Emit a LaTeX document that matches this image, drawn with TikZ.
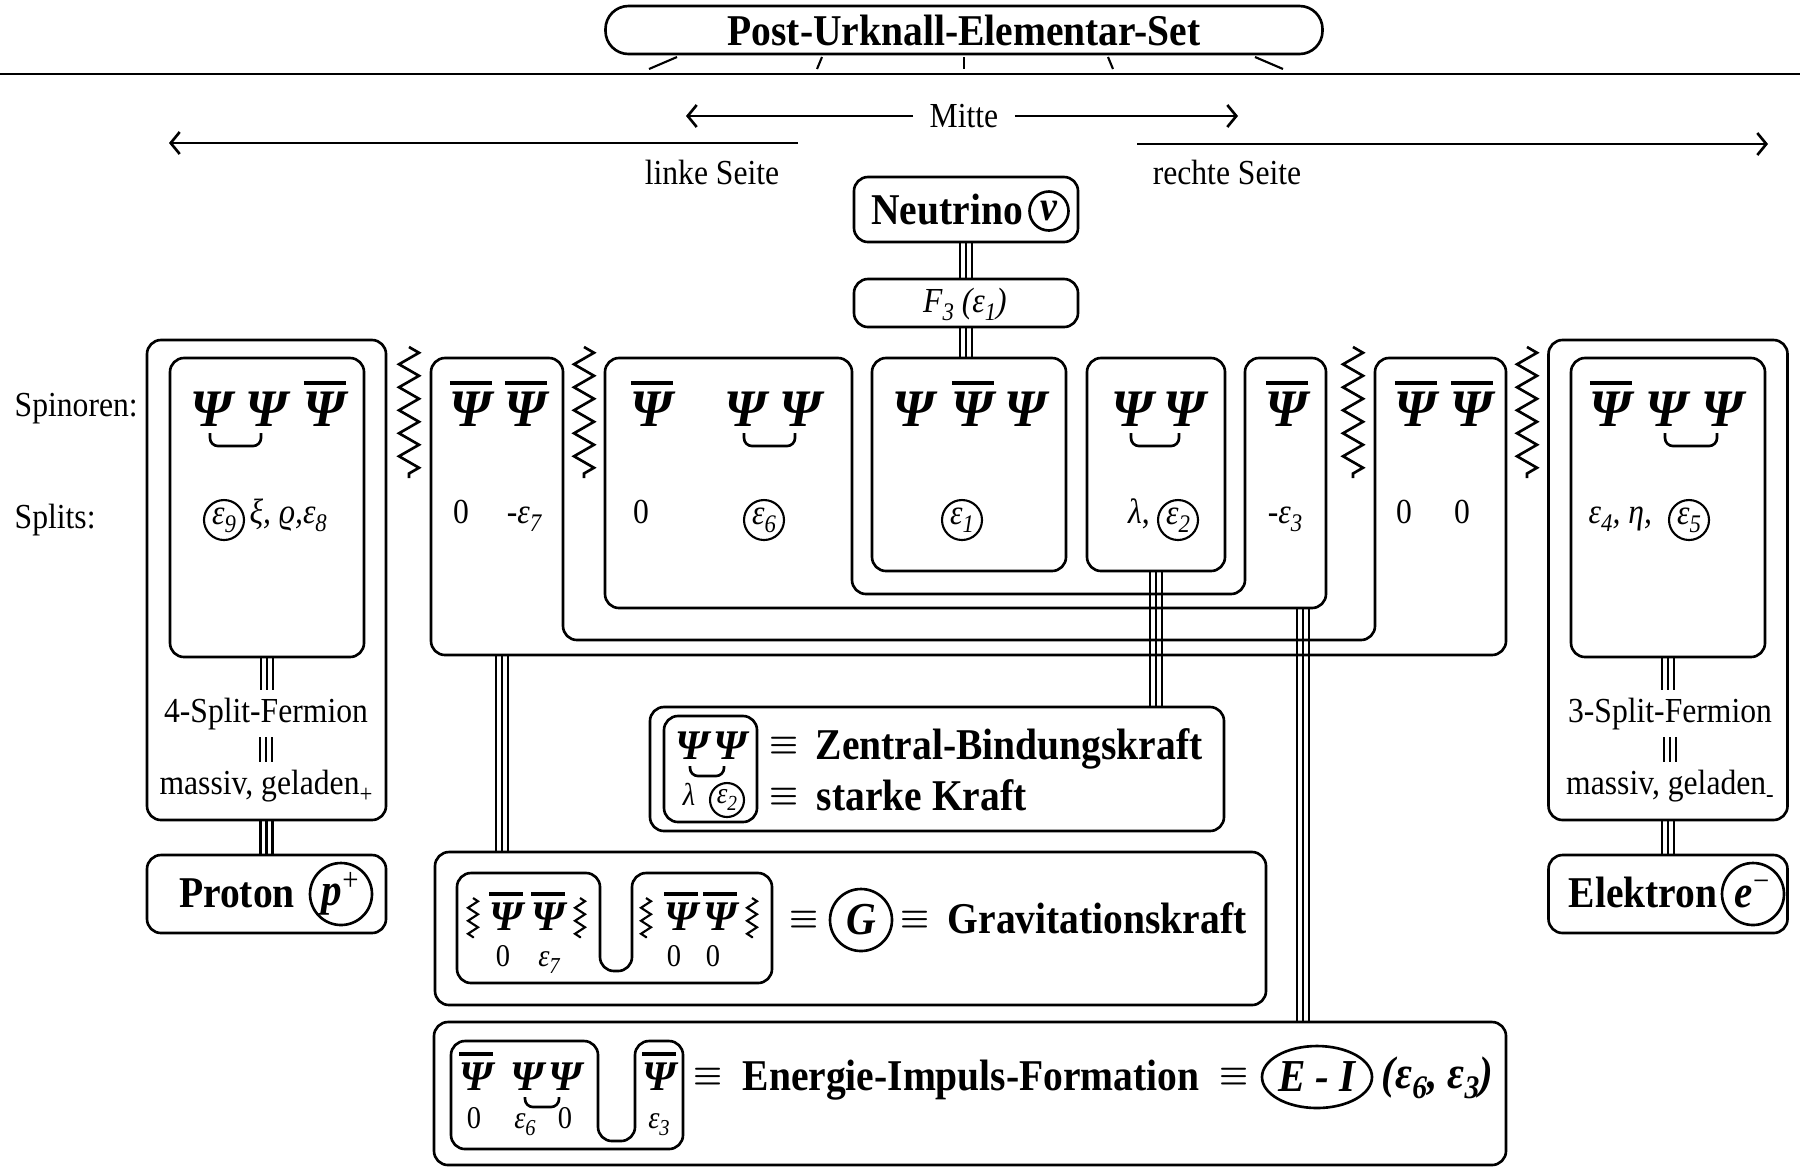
\documentclass[tikz,border=0pt]{standalone}
\usepackage{fontspec}
\setmainfont{Liberation Serif}[FakeStretch=0.9]
\newfontfamily\psifont{Liberation Serif}
\usetikzlibrary{arrows.meta,calc,backgrounds,shapes.geometric,decorations.pathmorphing}
\newcommand{\psibar}{\vbox{\hrule height 1.2pt\kern 1.8pt\hbox{Ψ}}}
\newcommand{\pairbr}[3][13]{\draw[pairline] ($(#2.base)+(-2,7)$) -- ++(0,#1) -| ($(#3.base)+(-6,7)$);}
\makeatletter
\newcommand{\sub}[1]{\raisebox{-0.5ex}{\dimen@=\f@size pt\dimen@=0.72\dimen@\fontsize{\strip@pt\dimen@}{1}\selectfont #1}}
\makeatother
\tikzset{
    boxline/.style = {draw, line width=0.75pt, rounded corners=1.4mm},
    boxnode/.style = {boxline, inner sep=0pt},
    tripleline/.style = {line width=4pt, postaction={draw=white, line width=2.6pt}, postaction={draw=black, line width=0.6pt}},
    plaintxt/.style = {font=\fontsize{10}{12}\selectfont, inner sep=2pt},
    boldtxt/.style = {font=\fontsize{12.5}{14}\selectfont\bfseries, inner sep=0pt},
    psitxt/.style = {font=\fontsize{15}{16}\psifont\bfseries\itshape, inner sep=0pt, anchor=base},
    smallpsi/.style = {font=\fontsize{12}{13}\psifont\bfseries\itshape, inner sep=0pt, anchor=base},
    splittxt/.style = {font=\fontsize{10}{12}\selectfont, inner sep=0pt, anchor=base},
    smallsplit/.style = {font=\fontsize{9}{10}\selectfont, inner sep=0pt, anchor=base},
    ringnode/.style = {circle, draw, line width=0.6pt, inner sep=0pt, minimum size=4mm, font=\fontsize{10}{12}\selectfont\itshape},
    smallring/.style = {ringnode, minimum size=3.4mm, font=\fontsize{8.5}{10}\selectfont\itshape},
    bigring/.style = {circle, draw, line width=0.75pt, inner sep=0pt, minimum size=6.2mm, font=\fontsize{13}{14}\selectfont\bfseries\itshape},
    eqvsign/.style = {font=\fontsize{9}{10}\selectfont\boldmath, inner sep=0pt},
    zigline/.style = {line width=0.75pt, decorate, decoration={zigzag, segment length=2.3mm, amplitude=1mm}},
    smallzig/.style = {line width=0.6pt, decorate, decoration={zigzag, segment length=1.3mm, amplitude=0.5mm}},
    pairline/.style = {line width=0.75pt, rounded corners=0.8mm},
    sidearrow/.style = {line width=0.75pt, -{Straight Barb[length=0.9mm, width=2.2mm]}}
}

\begin{document}
\begin{tikzpicture}[x=0.1mm, y=-0.1mm]
    \begin{scope}[on background layer]
        \fill[white] (0,0) rectangle (1800,1167);
    \end{scope}
    \useasboundingbox (0,0) rectangle (1800,1167);

    % Kopf
    \node[boxnode, boldtxt, rounded corners=2.3mm, minimum width=71.7mm, minimum height=4.8mm] (title) at (964,30) {Post-Urknall-Elementar-Set};
    \foreach \a/\b in {677/649, 822/817, 964/964, 1108/1113, 1255/1283}
        \draw[line width=0.6pt] (\a,57) -- (\b,69);
    \draw[line width=0.8pt] (0,74) -- (1800,74);

    % Mitte, linke und rechte Seite
    \node[plaintxt, inner sep=4.5pt] (mitte) at (964,116) {Mitte};
    \coordinate (mitteL) at (686,116);
    \coordinate (mitteR) at (1238,116);
    \draw[sidearrow] (mitte.west) -- (mitteL);
    \draw[sidearrow] (mitte.east) -- (mitteR);
    \coordinate (linksA) at (798,143);
    \coordinate (linksB) at (169,143);
    \coordinate (rechtsA) at (1137,144);
    \coordinate (rechtsB) at (1768,144);
    \draw[sidearrow] (linksA) -- (linksB);
    \draw[sidearrow] (rechtsA) -- (rechtsB);
    \node[plaintxt, anchor=base] (linke) at (712,184) {linke Seite};
    \node[plaintxt, anchor=base] (rechte) at (1227,184) {rechte Seite};

    % Neutrino
    \node[boxnode, minimum width=22.4mm, minimum height=6.5mm] (neutrino) at (966,209.5) {};
    \node[boldtxt, anchor=base] (ntxt) at (947,224) {Neutrino};
    \node[bigring, minimum size=3.9mm, font=\fontsize{12}{13}\selectfont\bfseries\itshape] (nnu) at (1049,211) {ν};
    \node[boxnode, minimum width=22.4mm, minimum height=4.8mm] (f3) at (966,303) {};
    \node[plaintxt, anchor=base, inner sep=0pt] (f3txt) at (965,312) {\itshape F\sub{3} (ε\sub{1})};

    % Zeilen
    \node[plaintxt, anchor=base west, inner sep=0pt] (spin) at (14,416) {Spinoren:};
    \node[plaintxt, anchor=base west, inner sep=0pt] (splits) at (14,528) {Splits:};

    % Proton
    \node[boxnode, minimum width=23.9mm, minimum height=48mm] (pout) at (266.5,580) {};
    \node[boxnode, minimum width=19.4mm, minimum height=29.9mm] (pin) at (267,507.5) {};
    \node[psitxt] (pa) at (212,426) {Ψ};
    \node[psitxt] (pb) at (267,426) {Ψ};
    \node[psitxt] (pc) at (325,426) {\psibar};
    \pairbr{pa}{pb}
    \node[ringnode] (p9) at (224,520) {ε\sub{9}};
    \node[splittxt, anchor=base west] (pxi) at (249,523) {\itshape ξ, ϱ,ε\sub{8}};
    \node[plaintxt, anchor=base] (pfl) at (266,722) {4-Split-Fermion};
    \node[plaintxt, anchor=base] (pmg) at (266,794) {massiv, geladen\sub{+}};
    \node[boxnode, minimum width=23.9mm, minimum height=7.8mm] (proton) at (266.5,894) {};
    \node[boldtxt, anchor=base] (ptxt) at (237,907) {Proton};
    \node[bigring] (pp) at (341,894) {p\textsuperscript{\normalfont +}};

    % Zickzack
    \draw[zigline] (409,347) -- (409,478);
    \draw[zigline] (584,347) -- (584,478);
    \draw[zigline] (1353,347) -- (1353,478);
    \draw[zigline] (1527,347) -- (1527,478);

    % aeusserer U-Rahmen
    \draw[boxline] (431,500) -- (431,358) -- (563,358) -- (563,640) -- (1375,640) -- (1375,358)
        -- (1506,358) -- (1506,655) -- (431,655) -- cycle;
    \node[psitxt] (ba) at (471,426) {\psibar};
    \node[psitxt] (bb) at (526,426) {\psibar};
    \node[splittxt] (b0) at (461,523) {0};
    \node[splittxt] (b7) at (524,523) {-\textit{ε\sub{7}}};
    \node[psitxt] (be) at (1416,426) {\psibar};
    \node[psitxt] (bf) at (1472,426) {\psibar};
    \node[splittxt] (b1) at (1404,523) {0};
    \node[splittxt] (b2) at (1462,523) {0};

    % innerer U-Rahmen
    \draw[boxline] (605,500) -- (605,358) -- (852,358) -- (852,594) -- (1245,594) -- (1245,358)
        -- (1326,358) -- (1326,608) -- (605,608) -- cycle;
    \node[psitxt] (ca) at (652,426) {\psibar};
    \node[psitxt] (cb) at (746,426) {Ψ};
    \node[psitxt] (cc) at (801,426) {Ψ};
    \pairbr{cb}{cc}
    \node[splittxt] (c0) at (641,523) {0};
    \node[ringnode] (c6) at (764,520) {ε\sub{6}};
    \node[psitxt] (cd) at (1287,426) {\psibar};
    \node[splittxt] (c3) at (1285,523) {-\textit{ε\sub{3}}};

    % Mitte epsilon 1
    \node[boxnode, minimum width=19.4mm, minimum height=21.3mm] (epsone) at (969,464.5) {};
    \node[psitxt] (da) at (914,426) {Ψ};
    \node[psitxt] (db) at (973,426) {\psibar};
    \node[psitxt] (dc) at (1026,426) {Ψ};
    \node[ringnode] (d1) at (962,520) {ε\sub{1}};

    % epsilon 2
    \node[boxnode, minimum width=13.8mm, minimum height=21.3mm] (epstwo) at (1156,464.5) {};
    \node[psitxt] (ea) at (1133,426) {Ψ};
    \node[psitxt] (eb) at (1185,426) {Ψ};
    \pairbr{ea}{eb}
    \node[splittxt] (el) at (1139,523) {\textit{λ},};
    \node[ringnode] (e2) at (1178,520) {ε\sub{2}};

    % Elektron
    \node[boxnode, minimum width=23.9mm, minimum height=48mm] (eout) at (1668,580) {};
    \node[boxnode, minimum width=19.4mm, minimum height=29.9mm] (ein) at (1668,507.5) {};
    \node[psitxt] (xa) at (1611,426) {\psibar};
    \node[psitxt] (xb) at (1667,426) {Ψ};
    \node[psitxt] (xc) at (1723,426) {Ψ};
    \pairbr{xb}{xc}
    \node[splittxt, anchor=base west] (x4) at (1588,523) {\itshape ε\sub{4}, η,};
    \node[ringnode] (x5) at (1689,520) {ε\sub{5}};
    \node[plaintxt, anchor=base] (xfl) at (1670,722) {3-Split-Fermion};
    \node[plaintxt, anchor=base] (xmg) at (1670,794) {massiv, geladen\sub{-}};
    \node[boxnode, minimum width=23.9mm, minimum height=7.8mm] (elektron) at (1668,894) {};
    \node[boldtxt, anchor=base] (xtxt) at (1643,907) {Elektron};
    \node[bigring] (xe) at (1753,894) {e\textsuperscript{\normalfont −}};

    % Zentral-Bindungskraft
    \node[boxnode, minimum width=57.4mm, minimum height=12.4mm] (zentral) at (937,769) {};
    \node[boxnode, minimum width=9.3mm, minimum height=10.6mm] (zin) at (710.5,769) {};
    \node[smallpsi] (za) at (692,759) {Ψ};
    \node[smallpsi] (zb) at (730,759) {Ψ};
    \pairbr[10]{za}{zb}
    \node[smallsplit] (zl) at (689,805) {\itshape λ};
    \node[smallring] (z2) at (727,800) {ε\sub{2}};
    \node[eqvsign] (zeq1) at (784,746) {$\equiv$};
    \node[boldtxt, anchor=base west] (ztxt) at (815,759) {Zentral-Bindungskraft};
    \node[eqvsign] (zeq2) at (784,797) {$\equiv$};
    \node[boldtxt, anchor=base west] (stxt) at (816,810) {starke Kraft};

    % Gravitationskraft
    \node[boxnode, minimum width=83.1mm, minimum height=15.3mm] (grav) at (850.5,928.5) {};
    \draw[boxline] (457,930) -- (457,873) -- (600,873) -- (600,971) -- (632,971) -- (632,873)
        -- (772,873) -- (772,983) -- (457,983) -- cycle;
    \foreach \zx in {473,580,646,752}
        \draw[smallzig] (\zx,898) -- (\zx,938);
    \node[smallpsi] (ga) at (506,930) {\psibar};
    \node[smallpsi] (gb) at (548,930) {\psibar};
    \node[smallpsi] (gc) at (681,930) {\psibar};
    \node[smallpsi] (gd) at (720,930) {\psibar};
    \node[smallsplit] (g0) at (503,966) {0};
    \node[smallsplit] (g7) at (549,966) {\itshape ε\sub{7}};
    \node[smallsplit] (g1) at (674,966) {0};
    \node[smallsplit] (g2) at (713,966) {0};
    \node[eqvsign] (geq1) at (804,920) {$\equiv$};
    \node[bigring] (gg) at (861,920) {G};
    \node[eqvsign] (geq2) at (915,920) {$\equiv$};
    \node[boldtxt, anchor=base west] (gtxt) at (947,933) {Gravitationskraft};

    % Energie-Impuls-Formation
    \node[boxnode, minimum width=107.2mm, minimum height=14.3mm] (energie) at (970,1093.5) {};
    \draw[boxline] (451,1100) -- (451,1041) -- (598,1041) -- (598,1141) -- (635,1141) -- (635,1041)
        -- (683,1041) -- (683,1149) -- (451,1149) -- cycle;
    \node[smallpsi] (fa) at (476,1090) {\psibar};
    \node[smallpsi] (fb) at (527,1090) {Ψ};
    \node[smallpsi] (fc) at (565,1090) {Ψ};
    \pairbr[10]{fb}{fc}
    \node[smallsplit] (f0) at (474,1128) {0};
    \node[smallsplit] (f6) at (525,1128) {\itshape ε\sub{6}};
    \node[smallsplit] (f1) at (565,1128) {0};
    \node[smallpsi] (fd) at (659,1090) {\psibar};
    \node[smallsplit] (f3e) at (659,1128) {\itshape ε\sub{3}};
    \node[eqvsign] (feq1) at (708,1077) {$\equiv$};
    \node[boldtxt, anchor=base west] (ftxt) at (742,1090) {Energie-Impuls-Formation};
    \node[eqvsign] (feq2) at (1234,1077) {$\equiv$};
    \node[ellipse, draw, line width=0.75pt, inner sep=0pt, minimum width=11mm, minimum height=6.2mm,
        font=\fontsize{13}{14}\selectfont\bfseries\itshape] (ei) at (1317,1077) {E - I};
    \node[boldtxt, anchor=base west, font=\fontsize{13}{14}\selectfont\bfseries\itshape] (feps) at (1381,1088) {(ε\sub{6}, ε\sub{3})};

    % dreifache Verbindungen
    \coordinate (bfoot) at (502,655);
    \coordinate (cfoot) at (1303,608);
    \begin{scope}[on background layer]
        \draw[tripleline] (neutrino.south) -- (f3.north);
        \draw[tripleline] (f3.south) -- (f3.south |- epsone.north);
        \draw[tripleline] (pin.south) -- (pin.south |- pfl.north);
        \draw[tripleline] (pfl.south) -- (pfl.south |- pmg.north);
        \draw[tripleline] (pout.south) -- (proton.north);
        \draw[tripleline] (ein.south) -- (ein.south |- xfl.north);
        \draw[tripleline] (xfl.south) -- (xfl.south |- xmg.north);
        \draw[tripleline] (eout.south) -- (elektron.north);
        \draw[tripleline] (epstwo.south) -- (epstwo.south |- zentral.north);
        \draw[tripleline] (bfoot) -- (bfoot |- grav.north);
        \draw[tripleline] (cfoot) -- (cfoot |- energie.north);
    \end{scope}
\end{tikzpicture}
\end{document}
